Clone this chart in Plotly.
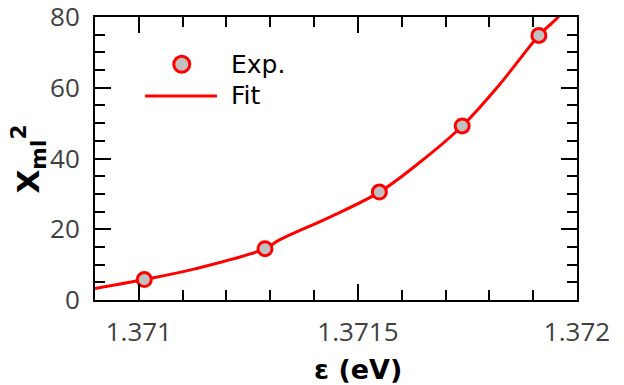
import plotly.graph_objects as go

# Experimental points
exp_energy = [1.3710125, 1.371288, 1.371549, 1.371738, 1.371913]
exp_x2 = [5.78, 14.5, 30.5, 49.2, 74.8]

# Fit curve
fit_energy = [1.3709, 1.3710125, 1.371128, 1.371288, 1.371322, 1.371436, 1.371549,
              1.371642, 1.371738, 1.371824, 1.371913, 1.371957, 1.37199]
fit_x2 = [3.24, 5.78, 8.8, 14.5, 17.05, 23.45, 30.5, 39.0, 49.2, 61.0, 74.8, 80.0, 85.5]

x_ticks = [1.371, 1.3715, 1.372]
x_ticklabels = ["1.371", "1.3715", "1.372"]
x_minor = [1.3711, 1.3712, 1.3713, 1.3714, 1.3716, 1.3717, 1.3718, 1.3719]
y_ticks = [0, 20, 40, 60, 80]

RED = "#ff0000"
GREY = "#c0c0c0"
TICKFONT = dict(family="Open Sans", size=26, color="#404040")

fig = go.Figure()
fig.add_trace(go.Scatter(x=fit_energy, y=fit_x2, mode="lines", name="Fit",
                         line=dict(color=RED, width=3, shape="spline", smoothing=1),
                         showlegend=False, hoverinfo="skip"))
fig.add_trace(go.Scatter(x=exp_energy, y=exp_x2, mode="markers", name="Exp.",
                         marker=dict(size=14, color=GREY, line=dict(color=RED, width=3)),
                         showlegend=False))

# legend drawn by hand
fig.add_shape(type="circle", xref="paper", yref="paper", xsizemode="pixel", ysizemode="pixel",
              xanchor=0.18, yanchor=0.833, x0=-8, x1=8, y0=-8, y1=8,
              fillcolor=GREY, line=dict(color=RED, width=3))
fig.add_shape(type="line", xref="paper", yref="paper", x0=0.104, x1=0.253, y0=0.721, y1=0.721,
              line=dict(color=RED, width=3))
LEGFONT = dict(family="DejaVu Sans", size=25, color="black")
fig.add_annotation(xref="paper", yref="paper", x=0.279, y=0.833, text="Exp.", showarrow=False,
                   xanchor="left", yanchor="middle", font=LEGFONT)
fig.add_annotation(xref="paper", yref="paper", x=0.279, y=0.721, text="Fit", showarrow=False,
                   xanchor="left", yanchor="middle", font=LEGFONT)

# axis titles
fig.add_annotation(xref="paper", yref="paper", x=0.5456, y=-0.2463, text="<b>ε (eV)</b>", showarrow=False,
                   xanchor="center", yanchor="middle", font=dict(family="DejaVu Sans", size=27, color="black"))
fig.add_annotation(xref="paper", yref="paper", x=-0.138, y=0.498, text="<b>X<sub>ml</sub><sup>2</sup></b>",
                   showarrow=False, textangle=-90, xanchor="center", yanchor="middle",
                   font=dict(family="DejaVu Sans", size=31, color="black"))

axis_common = dict(showline=True, linewidth=2, linecolor="black", mirror="ticks",
                   ticks="inside", ticklen=16, tickwidth=2, tickcolor="black",
                   showgrid=False, zeroline=False, tickfont=TICKFONT,
                   ticklabeloverflow="allow", automargin=False)

fig.update_xaxes(range=[1.3709, 1.372], tickmode="array", tickvals=x_ticks, ticktext=x_ticklabels,
                 ticklabelstandoff=8,
                 minor=dict(tickmode="array", tickvals=x_minor, ticks="inside", ticklen=10,
                            tickwidth=2, tickcolor="black", showgrid=False),
                 **axis_common)
fig.update_yaxes(range=[0, 80], tickmode="array", tickvals=y_ticks, ticklabelstandoff=8,
                 minor=dict(dtick=5, tick0=0, ticks="inside", ticklen=10,
                            tickwidth=2, tickcolor="black", showgrid=False),
                 **axis_common)

fig.update_layout(width=624, height=385, margin=dict(l=95, r=47, t=17, b=85, autoexpand=False),
                  plot_bgcolor="white", paper_bgcolor="white", showlegend=False)

fig.write_html("out.html")
